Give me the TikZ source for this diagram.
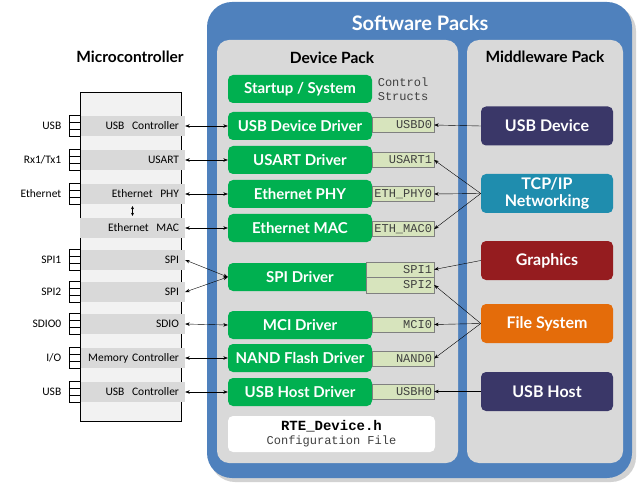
\documentclass[tikz,border=0pt]{standalone}
\usepackage{fontspec}
\usetikzlibrary{arrows.meta}
\setmainfont{Lato}
\newfontfamily\calib{Carlito}
\newfontfamily\monof{Liberation Mono}
\definecolor{packblue}{HTML}{4F81BD}
\definecolor{panelgray}{HTML}{D9D9D9}
\definecolor{drvgreen}{HTML}{00B050}
\definecolor{ctrlgreen}{HTML}{D7E4BD}
\definecolor{navy}{HTML}{3A3768}
\definecolor{teal}{HTML}{1F8DAE}
\definecolor{darkred}{HTML}{951C1F}
\definecolor{orangefs}{HTML}{E46C0A}
\definecolor{mcufill}{HTML}{F2F2F2}
\definecolor{monogray}{HTML}{404040}
\tikzset{
  gbox/.style={fill=drvgreen, rounded corners=5pt, minimum width=144pt, minimum height=28pt,
    inner sep=0pt, text=white, font=\bfseries\fontsize{15}{17}\selectfont},
  ctrlbox/.style={draw=gray, fill=ctrlgreen, minimum height=15pt, text width=58pt, align=right,
    inner xsep=2pt, inner ysep=0pt, text=monogray, font=\monof\fontsize{12}{13}\selectfont},
  mwbox/.style={rounded corners=5pt, minimum width=132pt, minimum height=39pt, inner sep=0pt,
    text=white, align=center, font=\bfseries\fontsize{16}{17}\selectfont},
  band/.style={fill=panelgray, minimum width=105pt, minimum height=20pt, text width=93pt,
    align=right, inner xsep=6pt, inner ysep=0pt, font=\calib\fontsize{11.5}{12}\selectfont},
  pinlabel/.style={anchor=east, font=\calib\fontsize{11.5}{12}\selectfont},
  title/.style={font=\bfseries\fontsize{15.5}{17}\selectfont},
  arr/.style={-{Stealth[length=4.5pt,width=3.5pt]}, thin, black},
  darr/.style={{Stealth[length=4.5pt,width=3.5pt]}-{Stealth[length=4.5pt,width=3.5pt]}, thin, black},
}
\begin{document}
\begin{tikzpicture}[x=1pt,y=-1pt]
\useasboundingbox (0,0) rectangle (639,486);
% software packs
\fill[black!35, opacity=0.5, rounded corners=25pt] (210,6) rectangle (636,482);
\fill[packblue, rounded corners=25pt] (207,2) rectangle (632,478);
\node[text=white, font=\bfseries\fontsize{20}{22}\selectfont] (swtitle) at (420,23) {Software Packs};
\fill[panelgray, rounded corners=12pt] (217,40) rectangle (458,463);
\fill[panelgray, rounded corners=12pt] (467,40) rectangle (623,463);
\node[title] (dptitle) at (332,58) {Device Pack};
\node[title] (mwtitle) at (545,57) {Middleware Pack};
% drivers
\node[gbox] (startup) at (300,89) {Startup / System};
\node[gbox] (usbd) at (300,126) {USB Device Driver};
\node[gbox] (usart) at (300,160) {USART Driver};
\node[gbox] (ethphy) at (300,194) {Ethernet PHY};
\node[gbox] (ethmac) at (300,228) {Ethernet MAC};
\node[gbox] (spi) at (300,277) {SPI Driver};
\node[gbox] (mci) at (300,325) {MCI Driver};
\node[gbox] (nand) at (300,358) {NAND Flash Driver};
\node[gbox] (usbh) at (300,392) {USB Host Driver};
\node[align=left, text=monogray, font=\monof\fontsize{12}{14}\selectfont] (cs) at (403,89) {Control\\Structs};
% control structs
\node[ctrlbox] (cusbd) at (403,125) {USBD0};
\node[ctrlbox] (cusart) at (403,160) {USART1};
\node[ctrlbox] (cphy) at (403,194) {ETH\_PHY0};
\node[ctrlbox] (cmac) at (403,229) {ETH\_MAC0};
\node[ctrlbox, text width=64pt] (cspi1) at (400,269.5) {SPI1};
\node[ctrlbox, text width=64pt, minimum height=16pt] (cspi2) at (400,285) {SPI2};
\node[ctrlbox] (cmci) at (403,324.5) {MCI0};
\node[ctrlbox] (cnand) at (403,358.5) {NAND0};
\node[ctrlbox] (cusbh) at (403,391.5) {USBH0};
% config file
\node[fill=white, rounded corners=5pt, minimum width=207pt, minimum height=36pt, align=center, inner sep=0pt] (rte) at (331.5,434)
  {{\monof\bfseries\fontsize{14}{15}\selectfont RTE\_Device.h}\\[2pt]{\monof\color{monogray}\fontsize{12}{13}\selectfont Configuration File}};
% middleware
\node[mwbox, fill=navy] (mwusbd) at (547,126) {USB Device};
\node[mwbox, fill=teal] (mwtcp) at (547,193.5) {TCP/IP\\Networking};
\node[mwbox, fill=darkred] (mwgfx) at (547,260.5) {Graphics};
\node[mwbox, fill=orangefs] (mwfs) at (547,323.5) {File System};
\node[mwbox, fill=navy] (mwusbh) at (547,391.5) {USB Host};
\draw[arr] (mwusbd.west) -- (cusbd.east);
\draw[arr] (mwtcp.west) -- (cusart.east);
\draw[arr] (mwtcp.west) -- (cphy.east);
\draw[arr] (mwtcp.west) -- (cmac.east);
\draw[arr] (mwgfx.west) -- (cspi1.east);
\draw[arr] (mwfs.west) -- (cspi2.east);
\draw[arr] (mwfs.west) -- (cmci.east);
\draw[arr] (mwfs.west) -- (cnand.east);
\draw[arr] (mwusbh.west) -- (cusbh.east);
% microcontroller
\node[title] (mcutitle) at (130,57) {Microcontroller};
\draw[fill=mcufill, thick] (80,92) rectangle (181,421);
\foreach \nm/\yc/\txt in {b1/126/USB~~Controller, b2/160/USART, b3/194/Ethernet~~PHY, b4/228/Ethernet~~MAC, b5/260/SPI, b6/292/SPI, b7/324/SDIO, b8/358/Memory~Controller, b9/392/USB~~Controller}{
  \node[band] (\nm) at (132.5,\yc) {\mbox{\txt}\hspace*{4pt}};
}
\foreach \nm/\pin in {b1/USB, b2/Rx1\slash Tx1, b3/Ethernet, b5/SPI1, b6/SPI2, b7/SDIO0, b8/I\slash O, b9/USB}{
  \draw[fill=white] ([xshift=-11pt,yshift=10.5pt]\nm.west) rectangle ([yshift=-10.5pt]\nm.west);
  \draw ([xshift=-11pt,yshift=3.5pt]\nm.west) -- ([yshift=3.5pt]\nm.west);
  \draw ([xshift=-11pt,yshift=-3.5pt]\nm.west) -- ([yshift=-3.5pt]\nm.west);
  \node[pinlabel] (p\nm) at ([xshift=-15pt]\nm.west) {\pin};
}
\draw[{Stealth[length=3pt,width=3pt]}-{Stealth[length=3pt,width=3pt]}, thin] ([yshift=-2pt]b3.south) -- ([yshift=2pt]b4.north);
% connectors micro <-> drivers
\draw[darr] (usbd.west) -- (b1.east);
\draw[darr] (usart.west) -- (b2.east);
\draw[darr] (ethphy.west) -- (b3.east);
\draw[darr] (ethmac.west) -- (b4.east);
\draw[darr] (spi.west) -- (b5.east);
\draw[darr] (spi.west) -- (b6.east);
\draw[darr] (mci.west) -- (b7.east);
\draw[darr] (nand.west) -- (b8.east);
\draw[darr] (usbh.west) -- (b9.east);
\end{tikzpicture}
\end{document}
